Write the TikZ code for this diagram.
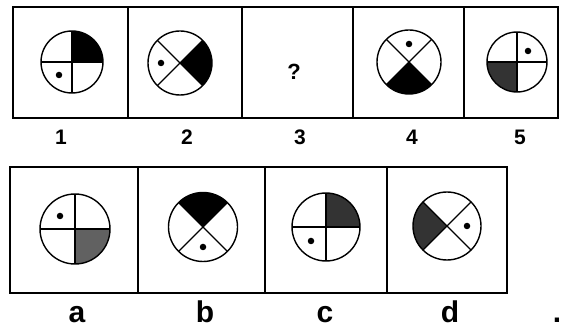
\documentclass[tikz,border=0pt]{standalone}
\usepackage{fontspec}
\setmainfont{Liberation Sans}
\usetikzlibrary{calc}

\begin{document}
\begin{tikzpicture}[
  x=1pt, y=1pt,
  % frames of the two rows
  frame/.style={line width=1.6pt, line join=miter},
  % the figures
  disc/.style={circle, draw=black, line width=1.4pt, inner sep=0pt, outer sep=0pt},
  cross/.style={line width=1.2pt},
  dotmark/.style={circle, fill=black, inner sep=0pt, minimum size=6.5pt},
  solid/.style={fill=black},
  grain/.style={fill=black!80},
  grainlight/.style={fill=black!62},
  % labels
  numlbl/.style={anchor=base, font=\fontsize{21}{21}\selectfont\bfseries},
  letlbl/.style={anchor=base, font=\fontsize{30}{30}\selectfont\bfseries},
  qlbl/.style={font=\fontsize{22}{22}\selectfont\bfseries}
  ]
  \useasboundingbox (0,0) rectangle (563,327);

  % --- Question row ---
  \draw[frame] (13,209) rectangle (558,320);
  \draw[frame] (128,209) -- (128,320);
  \draw[frame] (242,209) -- (242,320);
  \draw[frame] (353,209) -- (353,320);
  \draw[frame] (464,209) -- (464,320);

  % 1
  \coordinate (c1) at (72,265);
  \fill[solid] (c1) -- ++(90:31) arc[start angle=90, end angle=0, radius=31] -- cycle;
  \node[disc, minimum size=62pt] (f1) at (c1) {};
  \draw[cross] (f1.north) -- (f1.south);
  \draw[cross] (f1.west) -- (f1.east);
  \node[dotmark] (p1) at ($(c1)+(-13,-13)$) {};

  % 2
  \coordinate (c2) at (180,264);
  \fill[solid] (c2) -- ++(45:32) arc[start angle=45, end angle=-45, radius=32] -- cycle;
  \node[disc, minimum size=64pt] (f2) at (c2) {};
  \draw[cross] (f2.45) -- (f2.225);
  \draw[cross] (f2.135) -- (f2.315);
  \node[dotmark] (p2) at ($(c2)+(-19,0)$) {};

  % 3
  \node[qlbl] (q3) at (294,255) {?};

  % 4
  \coordinate (c4) at (409,265);
  \fill[solid] (c4) -- ++(-45:32) arc[start angle=-45, end angle=-135, radius=32] -- cycle;
  \node[disc, minimum size=64pt] (f4) at (c4) {};
  \draw[cross] (f4.45) -- (f4.225);
  \draw[cross] (f4.135) -- (f4.315);
  \node[dotmark] (p4) at ($(c4)+(0,18)$) {};

  % 5
  \coordinate (c5) at (517,265);
  \fill[grain] (c5) -- ++(180:30) arc[start angle=180, end angle=270, radius=30] -- cycle;
  \node[disc, minimum size=60pt] (f5) at (c5) {};
  \draw[cross] (f5.north) -- (f5.south);
  \draw[cross] (f5.west) -- (f5.east);
  \node[dotmark] (p5) at ($(c5)+(11,11)$) {};

  \node[numlbl] (n1) at (61,182) {1};
  \node[numlbl] (n2) at (187,182) {2};
  \node[numlbl] (n3) at (300,182) {3};
  \node[numlbl] (n4) at (412,182) {4};
  \node[numlbl] (n5) at (520,182) {5};

  % --- Answer row ---
  \draw[frame] (10,34) rectangle (507,160);
  \draw[frame] (138,34) -- (138,160);
  \draw[frame] (265,34) -- (265,160);
  \draw[frame] (387,34) -- (387,160);

  % a
  \coordinate (ca) at (75,98);
  \fill[grainlight] (ca) -- ++(0:35) arc[start angle=0, end angle=-90, radius=35] -- cycle;
  \node[disc, minimum size=70pt] (fa) at (ca) {};
  \draw[cross] (fa.north) -- (fa.south);
  \draw[cross] (fa.west) -- (fa.east);
  \node[dotmark] (pa) at ($(ca)+(-15,13)$) {};

  % b
  \coordinate (cb) at (203,100);
  \fill[solid] (cb) -- ++(45:34.5) arc[start angle=45, end angle=135, radius=34.5] -- cycle;
  \node[disc, minimum size=69pt] (fb) at (cb) {};
  \draw[cross] (fb.45) -- (fb.225);
  \draw[cross] (fb.135) -- (fb.315);
  \node[dotmark] (pb) at ($(cb)+(0,-20)$) {};

  % c
  \coordinate (cc) at (326,100);
  \fill[grain] (cc) -- ++(90:34) arc[start angle=90, end angle=0, radius=34] -- cycle;
  \node[disc, minimum size=68pt] (fc) at (cc) {};
  \draw[cross] (fc.north) -- (fc.south);
  \draw[cross] (fc.west) -- (fc.east);
  \node[dotmark] (pc) at ($(cc)+(-15,-14)$) {};

  % d
  \coordinate (cd) at (447,101);
  \fill[grain] (cd) -- ++(135:34) arc[start angle=135, end angle=225, radius=34] -- cycle;
  \node[disc, minimum size=68pt] (fd) at (cd) {};
  \draw[cross] (fd.45) -- (fd.225);
  \draw[cross] (fd.135) -- (fd.315);
  \node[dotmark] (pd) at ($(cd)+(20,0)$) {};

  \node[letlbl] (la) at (77,5) {a};
  \node[letlbl] (lb) at (205,5) {b};
  \node[letlbl] (lc) at (325,5) {c};
  \node[letlbl] (ld) at (450,5) {d};
  \node[letlbl] (stop) at (557,5) {.};

\end{tikzpicture}
\end{document}
